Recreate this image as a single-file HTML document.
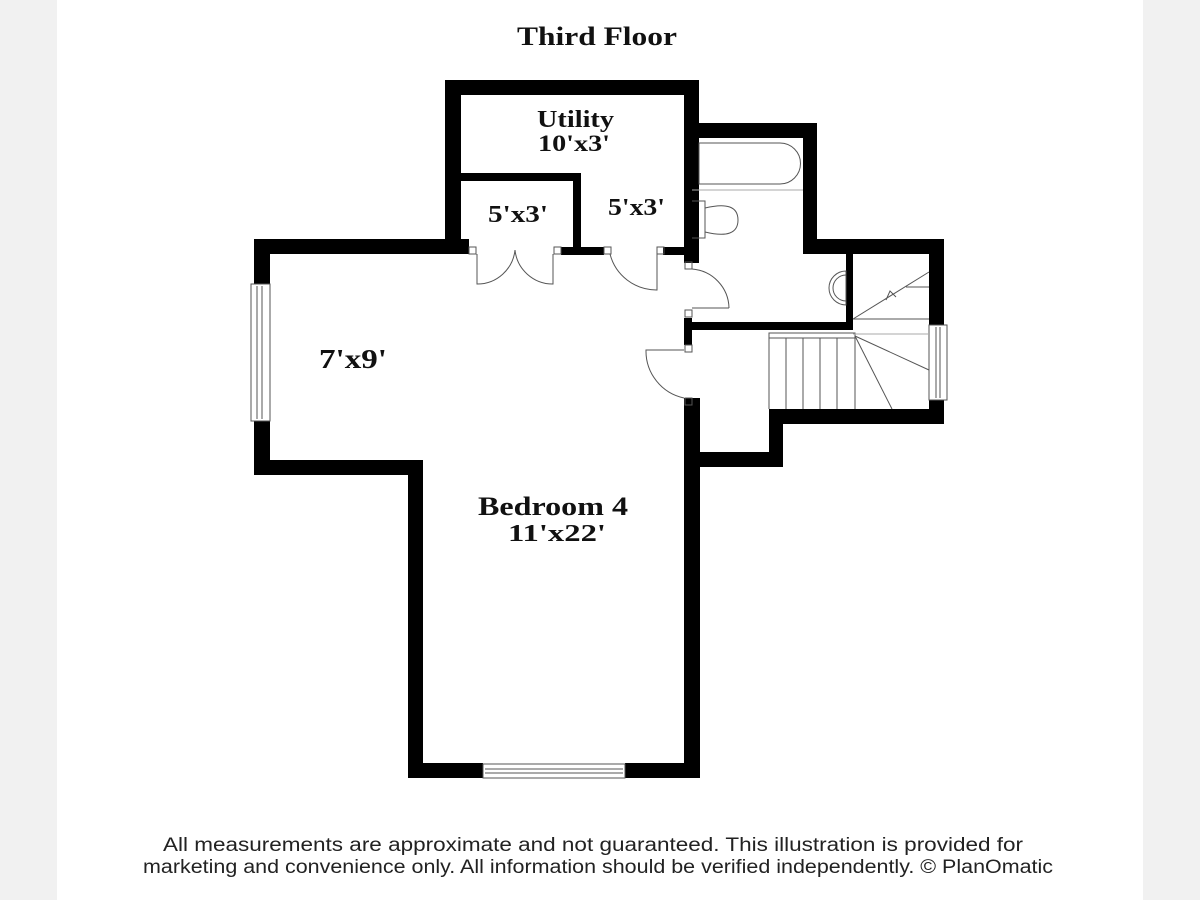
<!DOCTYPE html>
<html><head><meta charset="utf-8"><style>
html,body{margin:0;padding:0;background:#fff}
svg{display:block}
</style></head><body>
<svg width="1200" height="900" viewBox="0 0 1200 900" xmlns="http://www.w3.org/2000/svg">
<rect x="0" y="0" width="1200" height="900" fill="#fff"/>
<rect x="0" y="0" width="57" height="900" fill="#f1f1f1"/>
<rect x="1143" y="0" width="57" height="900" fill="#f1f1f1"/>

<g font-family="Liberation Serif, serif" font-weight="bold" fill="#111" lengthAdjust="spacingAndGlyphs">
<text x="517" y="45" font-size="26" textLength="160" lengthAdjust="spacingAndGlyphs">Third Floor</text>
<text x="537" y="127" font-size="24" textLength="77" lengthAdjust="spacingAndGlyphs">Utility</text>
<text x="538" y="151" font-size="23" textLength="72" lengthAdjust="spacingAndGlyphs">10'x3'</text>
<text x="488" y="222" font-size="24" textLength="60" lengthAdjust="spacingAndGlyphs">5'x3'</text>
<text x="608" y="215" font-size="24" textLength="57" lengthAdjust="spacingAndGlyphs">5'x3'</text>
<text x="319" y="368" font-size="27" textLength="68" lengthAdjust="spacingAndGlyphs">7'x9'</text>
<text x="478" y="515" font-size="26" textLength="150" lengthAdjust="spacingAndGlyphs">Bedroom 4</text>
<text x="508" y="541" font-size="24" textLength="98" lengthAdjust="spacingAndGlyphs">11'x22'</text>
</g>

<g fill="#000">
<rect x="445" y="80" width="254" height="15"/>
<rect x="445" y="80" width="16" height="174"/>
<rect x="684" y="80" width="15" height="183"/>
<rect x="461" y="173" width="120" height="8"/>
<rect x="573" y="173" width="8" height="82"/>
<rect x="254" y="239" width="215" height="15"/>
<rect x="561" y="247" width="43" height="8"/>
<rect x="663" y="247" width="21" height="8"/>
<rect x="254" y="239" width="16" height="45"/>
<rect x="254" y="421" width="16" height="54"/>
<rect x="254" y="460" width="169" height="15"/>
<rect x="408" y="460" width="15" height="318"/>
<rect x="408" y="763" width="75" height="15"/>
<rect x="625" y="763" width="75" height="15"/>
<rect x="684" y="318" width="8" height="27"/>
<rect x="684" y="398" width="16" height="380"/>
<rect x="684" y="452" width="99" height="15"/>
<rect x="769" y="409" width="14" height="58"/>
<rect x="769" y="409" width="175" height="15"/>
<rect x="685" y="123" width="132" height="15"/>
<rect x="685" y="123" width="7" height="139"/>
<rect x="803" y="123" width="14" height="131"/>
<rect x="803" y="239" width="141" height="15"/>
<rect x="929" y="239" width="15" height="86"/>
<rect x="929" y="400" width="15" height="24"/>
<rect x="685" y="322" width="168" height="8"/>
<rect x="846" y="254" width="7" height="76"/>
</g>

<g fill="none" stroke="#555" stroke-width="1">
<rect x="251" y="284" width="19" height="137"/>
<line x1="257" y1="286" x2="257" y2="419"/><line x1="262" y1="286" x2="262" y2="419"/>
<rect x="483" y="764" width="142" height="14"/>
<line x1="485" y1="769" x2="623" y2="769"/><line x1="485" y1="773" x2="623" y2="773"/>
<rect x="929" y="325" width="18" height="75"/>
<line x1="936" y1="327" x2="936" y2="398"/><line x1="940" y1="327" x2="940" y2="398"/>
<rect x="469" y="247" width="7" height="7"/><rect x="554" y="247" width="7" height="7"/>
<rect x="604" y="247" width="7" height="7"/><rect x="657" y="247" width="7" height="7"/>
<rect x="685" y="262" width="7" height="7"/><rect x="685" y="310" width="7" height="7"/>
<rect x="685" y="345" width="7" height="7"/><rect x="685" y="398" width="7" height="7"/>
<path d="M477 254 V284 A38 38 0 0 0 515 250"/>
<path d="M553 254 V284 A38 38 0 0 1 515 250"/>
<path d="M657 254 V290 A48 48 0 0 1 610 254"/>
<path d="M692 269 A40 40 0 0 1 729 308 M692 308 H729"/>
<path d="M684 350 H646 A48 48 0 0 0 684 398"/>
<path d="M699 143 H780 A20 20 0 0 1 780 184 H699 Z"/>
<line x1="692" y1="190" x2="803" y2="190" stroke="#aaa"/>
<path d="M692 201 H705 V238 H692"/>
<path d="M705 208 Q738 200 738 220 Q738 240 705 232"/>
<path d="M846 271 A17 17 0 1 0 846 305 Z"/>
<path d="M846 275 A13 13 0 1 0 846 301"/>
<rect x="769" y="333" width="86" height="5"/>
<line x1="769" y1="338" x2="769" y2="409"/>
<line x1="786" y1="338" x2="786" y2="409"/>
<line x1="803" y1="338" x2="803" y2="409"/>
<line x1="820" y1="338" x2="820" y2="409"/>
<line x1="837" y1="338" x2="837" y2="409"/>
<line x1="855" y1="338" x2="855" y2="409"/>
<line x1="855" y1="336" x2="929" y2="370"/>
<line x1="855" y1="336" x2="892" y2="409"/>
<line x1="853" y1="319" x2="929" y2="319"/>
<line x1="853" y1="334" x2="929" y2="334" stroke="#aaa"/>
<line x1="853" y1="319" x2="929" y2="272"/>
<line x1="906" y1="287" x2="929" y2="287"/>
<path d="M886 300 L890 291 L896 297"/>
</g>

<g font-family="Liberation Sans, sans-serif" font-size="19" fill="#222">
<text x="163" y="851" textLength="860" lengthAdjust="spacingAndGlyphs">All measurements are approximate and not guaranteed. This illustration is provided for</text>
<text x="143" y="873" textLength="910" lengthAdjust="spacingAndGlyphs">marketing and convenience only. All information should be verified independently. © PlanOmatic</text>
</g>
</svg>
</body></html>
